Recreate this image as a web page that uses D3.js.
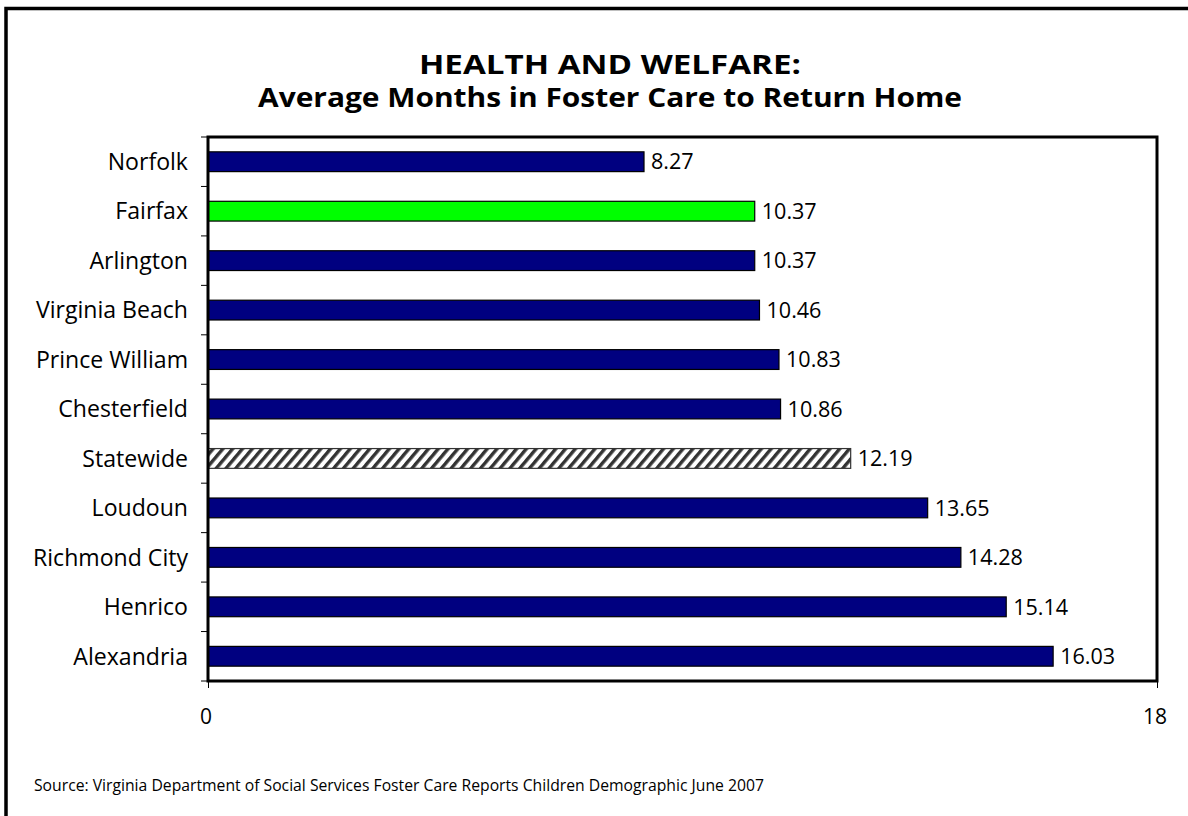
<!DOCTYPE html>
<head>
  <meta charset="utf-8">
  <script src="https://d3js.org/d3.v7.min.js"></script>
  <style>
    body { margin:0; background:#fff; }
    text { font-family: "Open Sans", Lato, sans-serif; fill:#000; }
  </style>
</head>
<body>
  <div id=figure></div>
  <script>
    // data
    var categories = ["Norfolk","Fairfax","Arlington","Virginia Beach","Prince William","Chesterfield","Statewide","Loudoun","Richmond City","Henrico","Alexandria"];
    var months = [8.27,10.37,10.37,10.46,10.83,10.86,12.19,13.65,14.28,15.14,16.03];
    var kinds = ["county","fairfax","county","county","county","county","state","county","county","county","county"];
    var xTicks = [0,18];
    var titleLines = ["HEALTH AND WELFARE:","Average Months in Foster Care to Return Home"];
    var titleWidths = [382,704];
    var source = "Source: Virginia Department of Social Services Foster Care Reports Children Demographic June 2007";

    var W = 1188, H = 816;
    var plot = {left:208, top:137, right:1157, bottom:681};

    var svg = d3.select("#figure").append("svg")
      .attr("width", W)
      .attr("height", H);

    // scale a text selection's font so that its widest item is `target` px
    function fitWidth(sel, target) {
      var w = 0;
      sel.each(function(){ w = Math.max(w, this.getComputedTextLength()); });
      var fs = parseFloat(sel.style("font-size"));
      sel.style("font-size", (fs*target/w).toFixed(2)+"px");
    }

    var defs = svg.append("defs");
    var pat = defs.append("pattern")
      .attr("id","hatch")
      .attr("patternUnits","userSpaceOnUse")
      .attr("width",7.5)
      .attr("height",7.5)
      .attr("patternTransform","rotate(40)");
    pat.append("rect").attr("width",7.5).attr("height",7.5).attr("fill","#fff");
    pat.append("rect").attr("width",3.4).attr("height",7.5).attr("fill","#333");

    // outer frame (only top & left fall inside the window)
    svg.append("rect")
      .attr("x",6).attr("y",8.5)
      .attr("width",W+20).attr("height",H+20)
      .attr("fill","none")
      .attr("stroke","#000")
      .attr("stroke-width",3.5);

    // title (condensed face in the original, so stretch to its measured widths)
    svg.selectAll(".title").data(titleLines).enter().append("text")
      .attr("class","title")
      .attr("x",610)
      .attr("y",function(d,i){ return 74 + i*33; })
      .attr("text-anchor","middle")
      .attr("textLength",function(d,i){ return titleWidths[i]; })
      .attr("lengthAdjust","spacingAndGlyphs")
      .style("font-weight","bold")
      .style("font-size","26px")
      .text(function(d){ return d; });

    var x = d3.scaleLinear()
      .domain([0,18])
      .range([plot.left, plot.right]);

    var y = d3.scaleBand()
      .domain(categories)
      .range([plot.top, plot.bottom])
      .paddingInner(0.6)
      .paddingOuter(0.3);

    var data = categories.map(function(c,i){ return {name:c, value:months[i], kind:kinds[i]}; });

    var fillOf = {county:"#000080", fairfax:"#00ff00", state:"url(#hatch)"};

    // bars
    svg.selectAll(".bar").data(data).enter().append("rect")
      .attr("class","bar")
      .attr("x", x(0))
      .attr("y", function(d){ return y(d.name); })
      .attr("width", function(d){ return x(d.value) - x(0); })
      .attr("height", y.bandwidth())
      .attr("fill", function(d){ return fillOf[d.kind]; })
      .attr("stroke", function(d){ return d.kind=="state" ? "#333" : "#000"; })
      .attr("stroke-width",1.2);

    // value labels
    var vals = svg.selectAll(".val").data(data).enter().append("text")
      .attr("class","val")
      .attr("x", function(d){ return x(d.value) + 7; })
      .attr("y", function(d){ return y(d.name) + y.bandwidth()/2; })
      .attr("dy","0.36em")
      .style("font-size","20px")
      .text(function(d){ return d3.format(".2f")(d.value); });
    fitWidth(vals, 55);

    // category labels
    var cats = svg.selectAll(".cat").data(data).enter().append("text")
      .attr("class","cat")
      .attr("x", 188)
      .attr("y", function(d){ return y(d.name) + y.bandwidth()/2; })
      .attr("dy","0.36em")
      .attr("text-anchor","end")
      .style("font-size","20px")
      .text(function(d){ return d.name; });
    fitWidth(cats, 155);

    // plot frame
    svg.append("rect")
      .attr("x",plot.left).attr("y",plot.top)
      .attr("width",plot.right-plot.left).attr("height",plot.bottom-plot.top)
      .attr("fill","none")
      .attr("stroke","#000")
      .attr("stroke-width",3);

    // category ticks between bands
    var edges = categories.map(function(c){ return y(c) - y.step()*y.paddingInner()/2; });
    edges.push(plot.bottom);
    svg.selectAll(".ytick").data(edges).enter().append("line")
      .attr("class","ytick")
      .attr("x1",plot.left-7).attr("x2",plot.left)
      .attr("y1",function(d){ return d; }).attr("y2",function(d){ return d; })
      .attr("stroke","#000")
      .attr("stroke-width",1);

    // x axis
    var xAxis = d3.axisBottom(x)
      .tickValues(xTicks)
      .tickSize(7)
      .tickPadding(21)
      .tickFormat(d3.format("d"));

    var gx = svg.append("g")
      .attr("transform","translate(0,"+plot.bottom+")")
      .call(xAxis);
    gx.select(".domain").remove();
    gx.selectAll("text")
      .style("font-size","21px")
      .style("font-family","'Open Sans', Lato, sans-serif")
      .attr("fill","#000")
      .attr("dx","-0.12em");
    gx.selectAll("line").attr("stroke","#000");

    // source
    var src = svg.append("text")
      .attr("x",34)
      .attr("y",791)
      .style("font-size","14px")
      .text(source);
    fitWidth(src, 730);
  </script>
</body>
